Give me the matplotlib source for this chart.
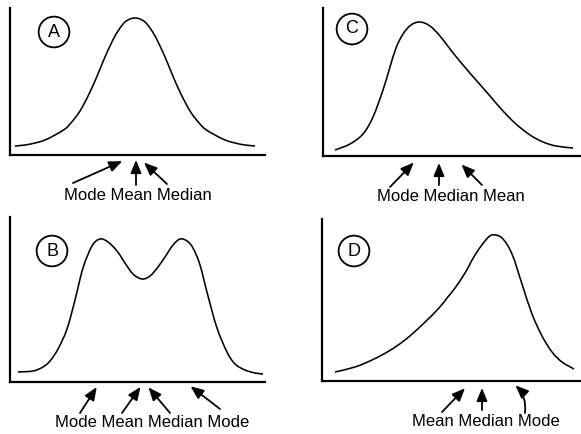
import matplotlib.pyplot as plt
from matplotlib.path import Path
from matplotlib.patches import PathPatch

plt.rcParams['font.family'] = ['Liberation Sans', 'DejaVu Sans']

# density curves: score along the axis, frequency above it
a_x = [5, 15, 25, 35, 45, 55, 60, 65, 70, 75, 80, 85, 90, 95, 100, 105, 110, 115, 120, 125,
       130, 135, 140, 145, 150, 155, 160, 165, 170, 175, 180, 185, 190, 195, 205, 215, 225, 235, 245]
a_y = [9, 10, 12, 15, 20, 26, 31, 37, 44, 53, 63, 74, 86, 98, 109, 119, 127, 133, 136, 137,
       136, 133, 127, 119, 109, 98, 86, 74, 63, 53, 44, 37, 31, 26, 20, 15, 12, 10, 9]

b_x = [8, 23, 33, 40, 48, 57, 65, 73, 82, 90, 98, 107, 115, 123, 132,
       140, 148, 157, 163, 170, 177, 183, 190, 198, 207, 217, 225, 235, 245, 253]
b_y = [10, 11, 15, 21, 33, 53, 82, 114, 136, 143, 140, 131, 119, 108, 103,
       106, 115, 128, 137, 143, 141, 134, 117, 86, 54, 30, 18, 12, 9, 8]

c_x = [12, 27, 40, 50, 60, 67, 73, 80, 88, 97, 107, 117, 127,
       140, 153, 167, 180, 193, 207, 220, 233, 250]
c_y = [6, 12, 22, 39, 66, 89, 108, 122, 131, 134, 130, 120, 107,
       91, 76, 60, 45, 32, 21, 14, 10, 8]

d_x = [13, 33, 50, 67, 83, 100, 117, 125, 133, 143, 153, 163, 170, 180,
       190, 200, 210, 220, 230, 240, 252]
d_y = [9, 14, 21, 30, 41, 56, 73, 83, 93, 108, 126, 140, 146, 143,
       127, 97, 67, 45, 29, 19, 12]

# where mode / mean / median fall on each axis
a_labels = ['Mode', 'Mean', 'Median']
a_marks = [126, 126, 126]
b_labels = ['Mode', 'Mean', 'Median', 'Mode']
b_marks = [90, 134, 134, 175]
c_labels = ['Mode', 'Median', 'Mean']
c_marks = [97, 116, 130]
d_labels = ['Mean', 'Median', 'Mode']
d_marks = [150, 160, 188]

W, H = 581, 434
fig = plt.figure(figsize=(W / 100, H / 100), dpi=100)


def smooth_path(xs, ys):
    # Catmull-Rom through the points, drawn as cubic Bezier segments
    pts = list(zip(xs, ys))
    verts = [pts[0]]
    codes = [Path.MOVETO]
    for i in range(len(pts) - 1):
        p0 = pts[i - 1] if i > 0 else pts[i]
        p1 = pts[i]
        p2 = pts[i + 1]
        p3 = pts[i + 2] if i + 2 < len(pts) else pts[i + 1]
        c1 = (p1[0] + (p2[0] - p0[0]) / 6, p1[1] + (p2[1] - p0[1]) / 6)
        c2 = (p2[0] - (p3[0] - p1[0]) / 6, p2[1] - (p3[1] - p1[1]) / 6)
        verts += [c1, c2, p2]
        codes += [Path.CURVE4] * 3
    return Path(verts, codes)


def panel(left, top, right, bottom, letter, letter_pos, xs, ys,
          labels, marks, tails, gaps, label_x, rads=None):
    ax = fig.add_axes([left / W, 1 - bottom / H, (right - left) / W, (bottom - top) / H])
    ax.set_xlim(0, right - left)
    ax.set_ylim(0, bottom - top)
    for side in ['top', 'right']:
        ax.spines[side].set_visible(False)
    for side in ['left', 'bottom']:
        ax.spines[side].set_linewidth(1.6)
        ax.spines[side].set_color('black')
    ax.set_xticks([])
    ax.set_yticks([])

    ax.add_patch(PathPatch(smooth_path(xs, ys), fc='none', ec='black', lw=1.15))

    ax.text(letter_pos[0], letter_pos[1], letter, fontsize=13, ha='center', va='center',
            bbox=dict(boxstyle='circle,pad=0.38', fc='white', ec='black', lw=1.3))

    for i, m in enumerate(marks):
        rad = rads[i] if rads else 0
        ax.annotate('', xy=(m, 0), xytext=tails[i], annotation_clip=False,
                    arrowprops=dict(arrowstyle='-|>,head_length=0.65,head_width=0.27',
                                    mutation_scale=12, lw=1.3, color='black',
                                    shrinkA=0, shrinkB=gaps[i] * 0.72,
                                    connectionstyle='arc3,rad=%s' % rad))
    ax.text(label_x, -45, ' '.join(labels), fontsize=12, ha='center', va='baseline',
            clip_on=False)
    return ax


panel(10, 8, 265, 155, 'A', (44, 123), a_x, a_y, a_labels, a_marks,
      [(63, -28), (126, -30), (157, -29)], [15, 5, 11], 128)
panel(10, 217, 265, 382, 'B', (42, 131), b_x, b_y, b_labels, b_marks,
      [(70, -31), (112, -31), (160, -31), (210, -27)], [6, 6, 7, 7], 142)
panel(323, 8, 580, 156, 'C', (29, 127), c_x, c_y, c_labels, c_marks,
      [(67, -31), (116, -29), (159, -29)], [9, 7, 12], 128)
panel(322, 219, 580, 381, 'D', (32, 130), d_x, d_y, d_labels, d_marks,
      [(120, -31), (160, -29), (203, -32)], [10, 7, 7], 164, rads=[0, 0, 0.3])

fig.savefig('out.png', dpi=100, facecolor='white')
